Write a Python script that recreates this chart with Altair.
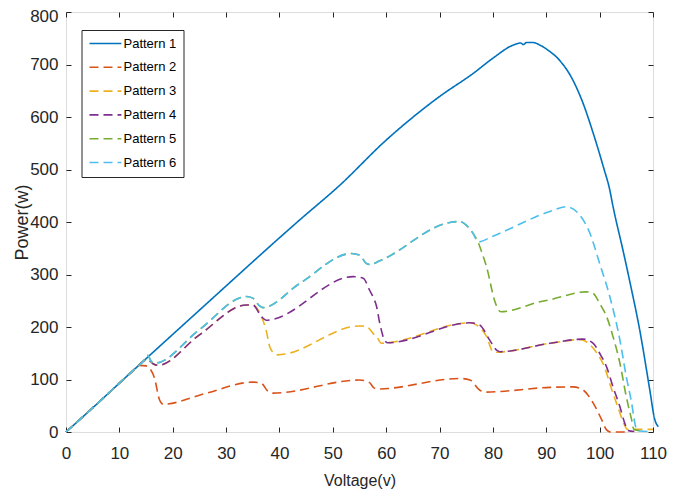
import altair as alt
import pandas as pd

# ---- data ----
V1 = [0, 5, 10, 25, 43.8, 51.3, 60, 70, 76.3, 80, 83.8, 85.2, 85.7, 86.3, 87.5, 88.8, 90.5, 92.5, 95, 96.9, 98.8, 100.7, 101.9, 102.5, 104.4, 106, 107.5, 109.4, 110.3, 111]
P1 = [0, 46, 93, 232, 404, 470, 556, 639, 683, 712, 737, 741, 738, 742, 742, 737, 726, 708, 670, 626, 569, 505, 461, 430, 345, 270, 195, 80, 25, 10]

V2 = [0, 5, 10, 12.5, 13.8, 15.0, 15.7, 16.6, 17.5, 18.2, 26.3, 35.0, 36.6, 37.8, 38.8, 55.0, 56.9, 57.7, 58.5, 73.8, 75.7, 77.5, 78.5, 90.7, 95.0, 96.9, 98.8, 100.4, 101.3, 102.0, 105.5]
P2 = [0, 46, 93, 116, 127, 126, 121, 102, 62, 53, 74, 95, 93, 78, 74, 99, 94, 84, 82, 102, 99, 80, 76, 85, 86, 80, 55, 23, 4, 0, 0]

V3 = [0, 5, 10, 13, 14.5, 15.3, 16.3, 17.2, 25.0, 33.8, 35.0, 36.6, 37.5, 38.2, 39.1, 39.6, 55.0, 56.3, 57.8, 58.2, 59.1, 60.3, 75.7, 76.9, 78.8, 80.0, 80.5, 90.7, 96.5, 98.0, 99.5, 100.9, 102.1, 103.4, 104.5, 105.2, 110]
P3 = [0, 46, 93, 121, 135, 138, 130, 127, 185, 242, 242, 220, 194, 162, 149, 147, 202, 201, 185, 182, 169, 170, 208, 204, 182, 153, 152, 169, 176, 168, 150, 124, 86, 48, 17, 5, 5]

V4 = [0, 5, 10, 13, 14.5, 15.3, 16.3, 17.2, 25.0, 33.8, 35.0, 36.6, 37.5, 53.8, 55.7, 56.9, 57.5, 58.2, 58.8, 59.7, 60.3, 75.7, 77.5, 79.4, 80.7, 81.3, 90.7, 96.9, 98.8, 100.0, 101.3, 102.5, 103.8, 104.7, 105.3, 106.5]
P4 = [0, 46, 93, 121, 135, 138, 130, 127, 185, 242, 242, 220, 213, 296, 293, 270, 258, 239, 207, 175, 170, 208, 204, 175, 156, 153, 169, 177, 169, 150, 124, 86, 48, 17, 3, 1]

V5 = [0, 5, 10, 13, 14.5, 15.3, 16.0, 16.6, 25.0, 33.8, 35.0, 36.3, 36.9, 43.8, 53.5, 55.0, 56.3, 57.0, 58.8, 71.9, 73.8, 75.0, 76.3, 77.2, 78.0, 78.8, 80.3, 80.9, 81.5, 88.8, 90.7, 97.5, 98.8, 100.0, 101.3, 102.5, 103.8, 105.0, 106.0, 106.4, 108.0]
P5 = [0, 46, 93, 121, 135, 146, 134, 131, 195, 258, 255, 240, 237, 283, 340, 337, 321, 319, 326, 399, 401, 394, 378, 362, 340, 315, 251, 235, 229, 248, 252, 267, 264, 245, 220, 182, 131, 67, 23, 5, 2]

V6 = [0, 5, 10, 13, 14.5, 15.3, 16.0, 16.6, 25.0, 33.8, 35.0, 36.3, 36.9, 43.8, 53.5, 55.0, 56.3, 57.0, 58.8, 71.9, 73.8, 75.0, 76.3, 77.2, 80.0, 90.7, 93.8, 96.3, 98.2, 100.0, 101.9, 103.8, 105.0, 106.0, 106.6, 107.0, 109.0]
P6 = [0, 46, 93, 121, 135, 146, 134, 131, 195, 258, 255, 240, 237, 283, 340, 337, 321, 319, 326, 399, 401, 394, 378, 362, 373, 420, 429, 413, 378, 321, 258, 175, 105, 55, 17, 3, 1]

names = ["Pattern 1", "Pattern 2", "Pattern 3", "Pattern 4", "Pattern 5", "Pattern 6"]
colors = ["#0072BD", "#D95319", "#EDB120", "#7E2F8E", "#77AC30", "#4DBEEE"]
x_ticks = [0, 10, 20, 30, 40, 50, 60, 70, 80, 90, 100, 110]
y_ticks = [0, 100, 200, 300, 400, 500, 600, 700, 800]

rows = []
for name, vs, ps in zip(names, [V1, V2, V3, V4, V5, V6], [P1, P2, P3, P4, P5, P6]):
    for i, (v, p) in enumerate(zip(vs, ps)):
        rows.append({"V": v, "P": p, "Pattern": name, "i": i})
df = pd.DataFrame(rows)

FONT = "Liberation Sans"
TXT = "#262626"

xscale = alt.Scale(domain=[0, 110], nice=False, zero=False, padding=0)
yscale = alt.Scale(domain=[0, 800], nice=False, padding=0)

common_axis = dict(domain=False, grid=False, tickSize=5, offset=-5, tickColor=TXT,
                   tickWidth=1, labelFont=FONT, labelFontSize=17, labelColor=TXT,
                   labelFlush=False, titleFont=FONT, titleColor=TXT, titleFontWeight="normal")

lines = alt.Chart(df).mark_line(strokeWidth=1.6, clip=False, interpolate="monotone").encode(
    x=alt.X("V:Q", scale=xscale, title="Voltage(v)",
            axis=alt.Axis(values=x_ticks, labelPadding=13, titlePadding=11, titleFontSize=16,
                          **common_axis)),
    y=alt.Y("P:Q", scale=yscale, title="Power(w)",
            axis=alt.Axis(values=y_ticks, labelPadding=8, titlePadding=-2, titleFontSize=18,
                          labelOffset={"condition": {"test": "datum.value == 800", "value": 4.5},
                                       "value": 0},
                          **common_axis)),
    color=alt.Color("Pattern:N", scale=alt.Scale(domain=names, range=colors),
                    legend=alt.Legend(title=None, orient="none", legendX=15.5, legendY=18,
                                      symbolType="M-1,0H4.8", symbolSize=121, symbolStrokeWidth=1.6,
                                      labelFont=FONT, labelFontSize=13, labelColor="#000000",
                                      rowPadding=9.8, padding=7, strokeColor=TXT, fillColor="white",
                                      labelOffset=22)),
    strokeDash=alt.StrokeDash("Pattern:N", scale=alt.Scale(domain=names,
                              range=[[1, 0], [9, 5], [9, 5], [9, 5], [9, 5], [9, 5]]), legend=None),
    order="i:Q",
)

frame_axes = alt.Chart(df).mark_line(opacity=0).encode(
    x=alt.X("V:Q", scale=xscale, title=None,
            axis=alt.Axis(orient="top", values=x_ticks, labels=False, **common_axis)),
    y=alt.Y("P:Q", scale=yscale, title=None,
            axis=alt.Axis(orient="right", values=y_ticks, labels=False, **common_axis)),
    detail="Pattern:N",
)

chart = alt.layer(lines, frame_axes).resolve_axis(x="independent", y="independent").properties(
    width=587, height=420,
    autosize=alt.AutoSizeParams(type="none"),
    padding={"left": 58, "top": 4, "right": 20, "bottom": 57},
).configure_view(stroke=TXT, strokeWidth=1).configure(background="white")

chart.save("out.html", embed_options={"renderer": "svg", "actions": False})
